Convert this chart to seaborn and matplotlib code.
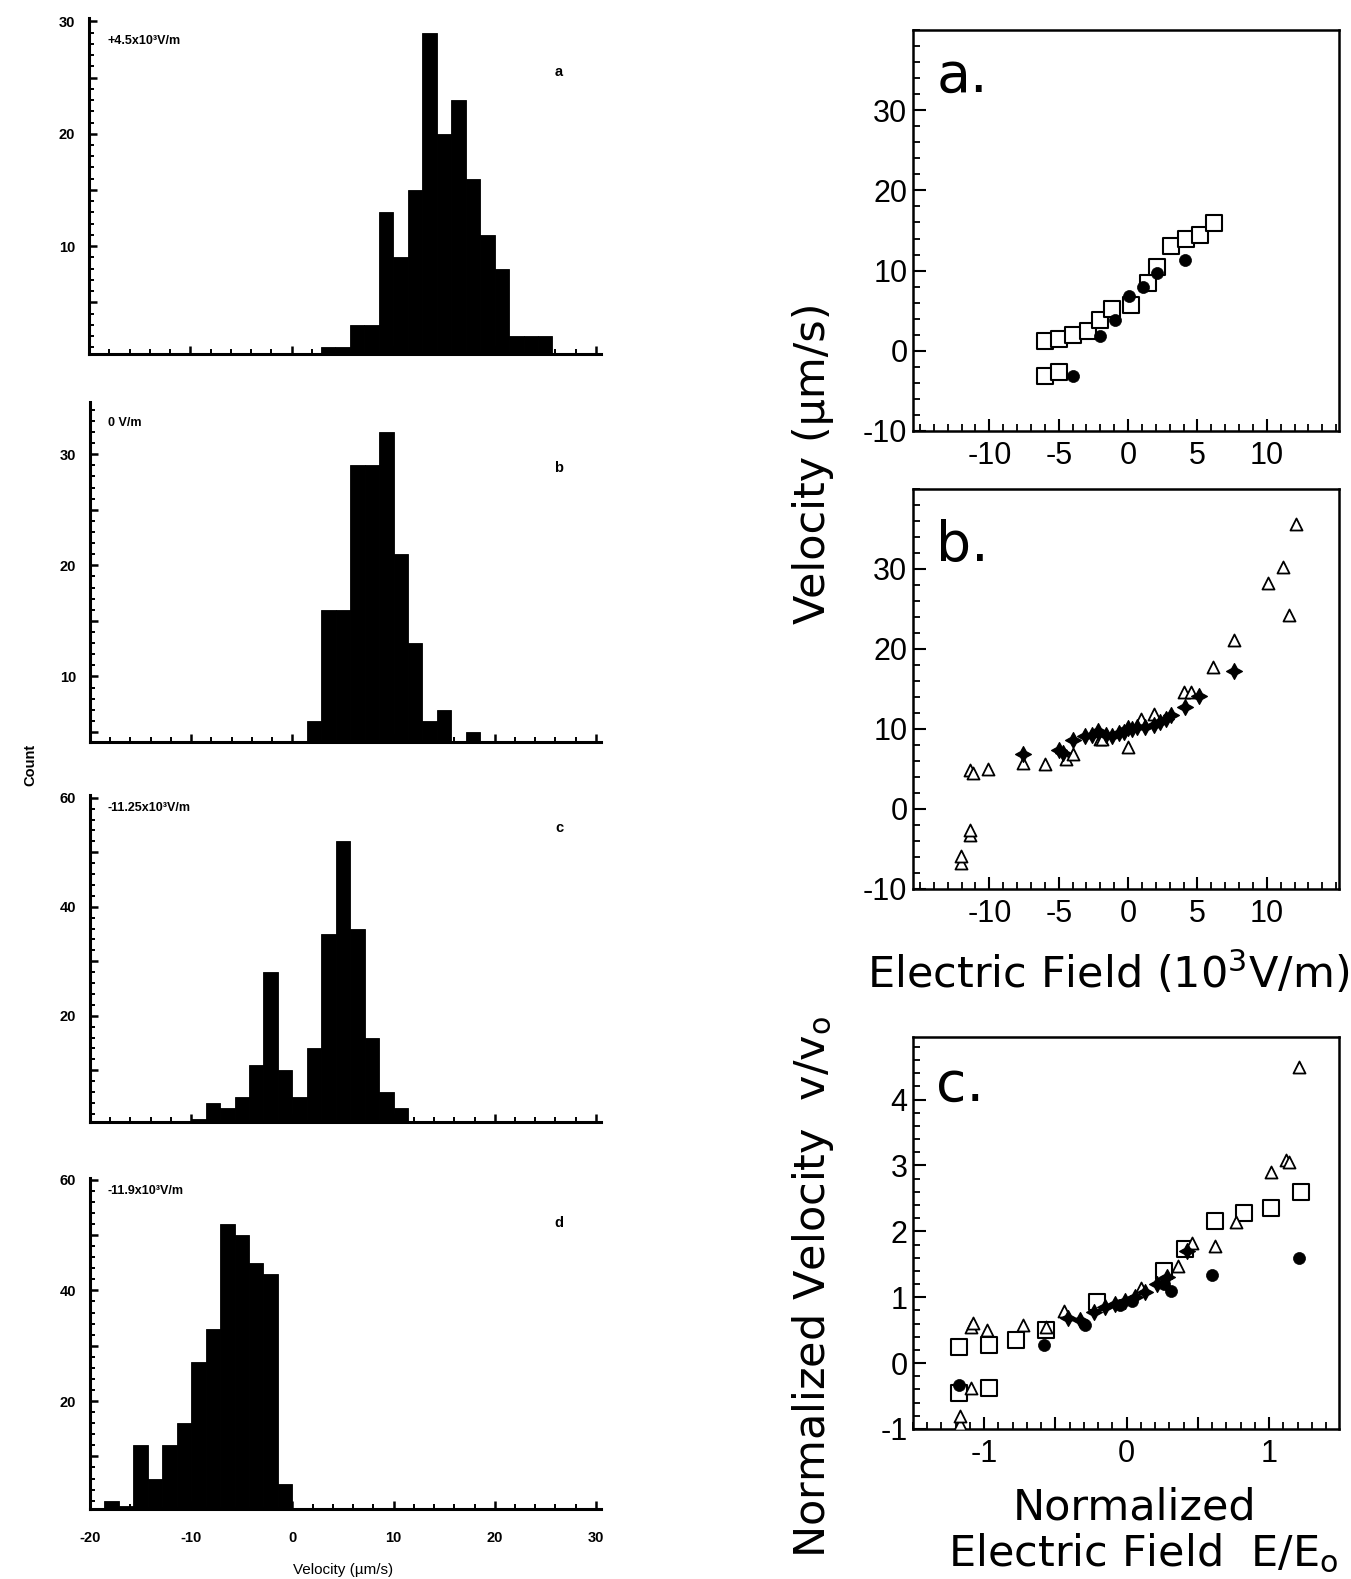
import numpy as np
import pandas as pd
import matplotlib
matplotlib.use("Agg")
import matplotlib.pyplot as plt
import seaborn as sns
from matplotlib.ticker import MultipleLocator, FixedLocator, FuncFormatter

sns.set_theme(style="white")
plt.rcParams["font.family"] = ["Liberation Sans", "DejaVu Sans"]
plt.rcParams["mathtext.fontset"] = "custom"
plt.rcParams["mathtext.rm"] = "DejaVu Sans"
plt.rcParams["mathtext.it"] = "DejaVu Sans:italic"
plt.rcParams["mathtext.bf"] = "DejaVu Sans:bold"
plt.rcParams["axes.unicode_minus"] = False
plt.rcParams["text.color"] = "black"
plt.rcParams["axes.labelcolor"] = "black"
plt.rcParams["xtick.color"] = "black"
plt.rcParams["ytick.color"] = "black"

# ---------------- DATA ----------------
BIN_WIDTH = 10 / 7  # velocity bin width (um/s)

# Histograms (left column): first bin edge and counts per bin
hist_a_start = 20 / 7          # +4.5x10^3 V/m
hist_a_counts = [1, 1, 3, 3, 13, 9, 15, 29, 20, 23, 16, 11, 8, 2, 2, 2]
hist_b_start = 10 / 7          # 0 V/m
hist_b_counts = [6, 16, 16, 29, 29, 32, 21, 13, 6, 7, 0, 5]
hist_c_start = -10.0           # -11.25x10^3 V/m
hist_c_counts = [1, 4, 3, 5, 11, 28, 10, 5, 14, 35, 52, 36, 16, 6, 3]
hist_d_start = -130 / 7        # -11.9x10^3 V/m
hist_d_counts = [2, 1, 12, 6, 12, 16, 27, 33, 52, 50, 45, 43, 5]

hist_fields = ["+4.5x10³V/m", "0 V/m", "-11.25x10³V/m", "-11.9x10³V/m"]
hist_letters = ["a", "b", "c", "d"]
hist_yticks = [[10, 20, 30], [10, 20, 30], [20, 40, 60], [20, 40, 60]]
hist_xticks = [-20, -10, 0, 10, 20, 30]

# Right panel a: velocity vs field
ra_sq_x = [-6.0, -5.0, -4.0, -2.9, -2.0, -1.15, 0.2, 1.4, 2.05, 3.1, 4.2, 5.2, 6.2, -6.0, -5.0]
ra_sq_y = [1.2, 1.5, 2.0, 2.5, 3.8, 5.2, 5.7, 8.4, 10.5, 13.1, 13.9, 14.5, 15.9, -3.2, -2.6]
ra_ci_x = [-4.0, -2.0, -0.95, 0.1, 1.05, 2.05, 4.1]
ra_ci_y = [-3.1, 1.9, 3.9, 6.8, 8.0, 9.7, 11.3]

# Right panel b
rb_tri_x = [-12.05, -12.05, -11.4, -11.4, -11.4, -11.2, -10.1, -7.6, -6.0, -4.5, -4.0,
            -2.05, -1.85, 0.0, 0.95, 1.9, 4.05, 4.5, 6.15, 7.6, 10.1, 11.15, 11.6, 12.1]
rb_tri_y = [-6.8, -5.9, -3.3, -2.6, 4.9, 4.5, 5.0, 5.7, 5.6, 6.3, 6.9,
            8.7, 8.7, 7.7, 11.3, 11.9, 14.6, 14.6, 17.8, 21.1, 28.3, 30.3, 24.3, 35.6]
rb_st_x = [-7.6, -5.0, -4.0, -3.1, -2.2, -1.15, -0.65, 0.0, 0.65, 1.9, 2.3, 3.1, 4.1, 5.1, 7.6,
           -4.7, -2.6, -1.6, -0.3, 0.3, 1.2, 2.7]
rb_st_y = [6.9, 7.4, 8.6, 9.1, 9.7, 9.1, 9.5, 10.1, 10.3, 10.5, 10.9, 11.8, 12.8, 14.1, 17.3,
           7.0, 9.3, 9.2, 9.6, 10.0, 10.2, 11.2]

# Right panel c: normalized velocity vs normalized field
rc_sq_x = [-1.18, -0.97, -0.78, -0.57, -1.18, -0.97, -0.21, 0.26, 0.41, 0.62, 0.82, 1.01, 1.22]
rc_sq_y = [0.24, 0.28, 0.35, 0.5, -0.45, -0.38, 0.93, 1.4, 1.73, 2.15, 2.28, 2.35, 2.6]
rc_tri_x = [-1.17, -1.17, -1.09, -1.08, -1.09, -0.98, -0.73, -0.57, -0.44, 0.10, 0.36, 0.46,
            0.62, 0.77, 1.01, 1.12, 1.14, 1.21]
rc_tri_y = [-0.93, -0.8, 0.55, 0.61, -0.38, 0.51, 0.58, 0.55, 0.79, 1.14, 1.48, 1.83,
            1.78, 2.14, 2.9, 3.08, 3.05, 4.5]
rc_ci_x = [-1.18, -0.58, -0.29, -0.05, 0.04, 0.26, 0.31, 0.60, 1.21]
rc_ci_y = [-0.33, 0.28, 0.58, 0.88, 0.95, 1.2, 1.1, 1.34, 1.6]
rc_st_x = [-0.41, -0.33, -0.23, -0.15, -0.08, -0.01, 0.06, 0.13, 0.21, 0.28, 0.42]
rc_st_y = [0.68, 0.65, 0.78, 0.85, 0.90, 0.95, 1.0, 1.08, 1.2, 1.3, 1.7]

# ---------------- FIGURE ----------------
W, H = 1351, 1579
fig = plt.figure(figsize=(W / 100, H / 100), dpi=100)


def rect(l, r, t, b):
    return [l / W, 1 - b / H, (r - l) / W, (b - t) / H]


def fx(px):
    return px / W


def fy(py):
    return 1 - py / H


left_rects = [rect(89, 601, 18, 354), rect(90, 601, 402, 742),
              rect(90, 601, 795, 1122), rect(90, 601, 1178, 1509)]
hist_starts = [hist_a_start, hist_b_start, hist_c_start, hist_d_start]
hist_counts = [hist_a_counts, hist_b_counts, hist_c_counts, hist_d_counts]
hist_ylims = [(0.4, 30.3), (4.1, 34.7), (0.5, 60.5), (0.5, 60.3)]
hist_minor = [1, 1, 2, 2]
hist_major = [5, 5, 10, 10]

for i in range(4):
    ax = fig.add_axes(left_rects[i])
    counts = [float(c) for c in hist_counts[i]]
    edges = [hist_starts[i] + BIN_WIDTH * k for k in range(len(counts) + 1)]
    centers = [0.5 * (edges[k] + edges[k + 1]) for k in range(len(counts))]
    df = pd.DataFrame({"v": centers, "n": counts})
    sns.histplot(data=df, x="v", weights="n", bins=edges, color="black",
                 alpha=1, edgecolor="black", linewidth=0.6, ax=ax)
    ax.set_xlim(-20, 30.5)
    ax.set_ylim(*hist_ylims[i])
    ax.set_xlabel("")
    ax.set_ylabel("")
    for s in ["top", "right"]:
        ax.spines[s].set_visible(False)
    for s in ["left", "bottom"]:
        ax.spines[s].set_color("black")
        ax.spines[s].set_linewidth(2.2)
    ax.xaxis.set_major_locator(MultipleLocator(10))
    ax.xaxis.set_minor_locator(MultipleLocator(2))
    ax.yaxis.set_major_locator(MultipleLocator(hist_major[i]))
    ax.yaxis.set_minor_locator(MultipleLocator(hist_minor[i]))
    yt = hist_yticks[i]
    ax.yaxis.set_major_formatter(FuncFormatter(lambda v, p, yt=yt: f"{int(round(v))}" if int(round(v)) in yt else ""))
    ax.tick_params(axis="both", which="both", direction="in", color="black",
                   left=True, bottom=True, labelsize=10.5, labelcolor="black")
    ax.tick_params(axis="both", which="major", length=6, width=1.8, pad=10)
    ax.tick_params(axis="both", which="minor", length=3.5, width=1.4)
    for lab in ax.get_yticklabels():
        lab.set_fontweight("bold")
    if i < 3:
        ax.tick_params(axis="x", labelbottom=False)
    else:
        ax.set_xticks(hist_xticks)
        ax.set_xticklabels([str(t) for t in hist_xticks], fontweight="bold", fontsize=10.5)
        ax.tick_params(axis="x", pad=16)
    ax.grid(False)

# left annotations
field_y = [41, 423, 808, 1191]
letter_y = [72, 468, 828, 1223]
for i in range(4):
    fig.text(fx(108), fy(field_y[i]), hist_fields[i], fontsize=9, fontweight="bold",
             ha="left", va="center", color="black")
    fig.text(fx(559), fy(letter_y[i]), hist_letters[i], fontsize=10.5, fontweight="bold",
             ha="center", va="center", color="black")
fig.text(fx(30), fy(765), "Count", rotation=90, fontsize=10.5, fontweight="bold",
         ha="center", va="center", color="black")
fig.text(fx(343), fy(1570), "Velocity (µm/s)", fontsize=11, ha="center", va="center",
         color="black")

# ---------------- RIGHT PANELS ----------------
TICK_FS = 22
right_rects = [rect(913, 1339, 30, 431), rect(913, 1339, 489, 889), rect(913, 1339, 1037, 1429)]


def style_right(ax, xmaj, xmin, ymaj, ymin, xlab):
    for s in ax.spines.values():
        s.set_visible(True)
        s.set_color("black")
        s.set_linewidth(1.8)
    ax.xaxis.set_major_locator(FixedLocator(xmaj))
    ax.xaxis.set_minor_locator(MultipleLocator(xmin))
    ax.yaxis.set_major_locator(FixedLocator(ymaj))
    ax.yaxis.set_minor_locator(MultipleLocator(ymin))
    ax.xaxis.set_major_formatter(FuncFormatter(xlab))
    ax.yaxis.set_major_formatter(FuncFormatter(lambda v, p: f"{int(round(v))}"))
    ax.tick_params(axis="both", which="both", direction="in", left=True, bottom=True,
                   top=False, right=False, color="black", labelcolor="black",
                   labelsize=TICK_FS)
    ax.tick_params(axis="both", which="major", length=9, width=1.5, pad=4)
    ax.tick_params(axis="x", which="major", pad=7)
    ax.tick_params(axis="both", which="minor", length=5, width=1.3)
    ax.set_xlabel("")
    ax.set_ylabel("")
    ax.grid(False)


sq_kw = dict(marker="s", s=120, color="white", edgecolor="black", linewidth=1.5, zorder=3)
tri_kw = dict(marker="^", s=75, color="white", edgecolor="black", linewidth=1.3, zorder=3)
ci_kw = dict(marker="o", s=75, color="black", edgecolor="black", linewidth=0.5, zorder=4)
st_kw = dict(marker=(4, 1, 0), s=130, color="black", edgecolor="black", linewidth=0.9, zorder=4)

PANEL_FS = 40
# panel a
ax = fig.add_axes(right_rects[0])
sns.scatterplot(x=ra_sq_x, y=ra_sq_y, ax=ax, **sq_kw)
sns.scatterplot(x=ra_ci_x, y=ra_ci_y, ax=ax, **ci_kw)
ax.set_xlim(-15.5, 15.2)
ax.set_ylim(-10, 40)
style_right(ax, [-10, -5, 0, 5, 10], 1, [-10, 0, 10, 20, 30], 2,
            lambda v, p: f"{int(round(v))}")
ax.text(0.055, 0.95, "a.", transform=ax.transAxes, fontsize=PANEL_FS, ha="left", va="top",
        family="DejaVu Sans", color="black")

# panel b
ax = fig.add_axes(right_rects[1])
sns.scatterplot(x=rb_tri_x, y=rb_tri_y, ax=ax, **tri_kw)
sns.scatterplot(x=rb_st_x, y=rb_st_y, ax=ax, **st_kw)
ax.set_xlim(-15.5, 15.2)
ax.set_ylim(-10, 40)
style_right(ax, [-10, -5, 0, 5, 10], 1, [-10, 0, 10, 20, 30], 2,
            lambda v, p: f"{int(round(v))}")
ax.text(0.055, 0.925, "b.", transform=ax.transAxes, fontsize=PANEL_FS, ha="left", va="top",
        family="DejaVu Sans", color="black")

# panel c
ax = fig.add_axes(right_rects[2])
sns.scatterplot(x=rc_sq_x, y=rc_sq_y, ax=ax, **sq_kw)
sns.scatterplot(x=rc_tri_x, y=rc_tri_y, ax=ax, **tri_kw)
sns.scatterplot(x=rc_ci_x, y=rc_ci_y, ax=ax, **ci_kw)
sns.scatterplot(x=rc_st_x, y=rc_st_y, ax=ax, **st_kw)
ax.set_xlim(-1.5, 1.49)
ax.set_ylim(-1, 4.95)
style_right(ax, [-1, -0.5, 0, 0.5, 1], 0.1, [-1, 0, 1, 2, 3, 4], 0.2,
            lambda v, p: f"{int(round(v))}" if abs(v - round(v)) < 1e-6 else "")
ax.text(0.055, 0.945, "c.", transform=ax.transAxes, fontsize=PANEL_FS, ha="left", va="top",
        family="DejaVu Sans", color="black")

# right labels
LAB_FS = 31
LAB_FAM = ["DejaVu Sans"]
fig.text(fx(813), fy(463), "Velocity (µm/s)", rotation=90, fontsize=LAB_FS,
         ha="center", va="center", family=LAB_FAM, color="black")
fig.text(fx(1108), fy(973), "Electric Field (10$^3$V/m)", fontsize=LAB_FS,
         ha="center", va="center", family=LAB_FAM, color="black")
fig.text(fx(813), fy(1287), "Normalized Velocity  v/v$_\\mathrm{o}$", rotation=90,
         fontsize=LAB_FS, ha="center", va="center", family=LAB_FAM, color="black")
fig.text(fx(1135), fy(1508), "Normalized", fontsize=LAB_FS, ha="center", va="center",
         family=LAB_FAM, color="black")
fig.text(fx(1143), fy(1553), "Electric Field  E/E$_\\mathrm{o}$", fontsize=LAB_FS,
         ha="center", va="center", family=LAB_FAM, color="black")

fig.savefig("out.png", dpi=100)
